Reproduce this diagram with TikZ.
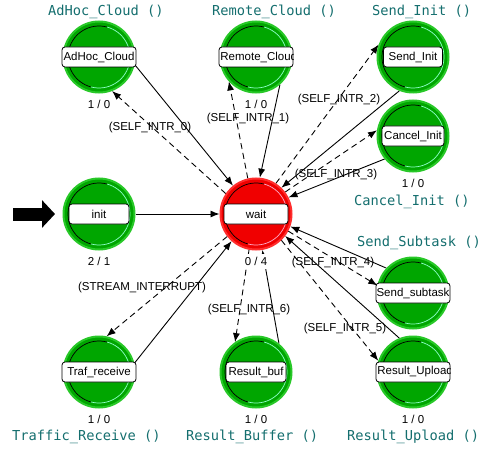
\documentclass[tikz,border=0pt]{standalone}
\usepackage{fontspec}
\setmainfont{Liberation Sans}
\newfontfamily\procfont{DejaVu Sans Mono}
\usetikzlibrary{arrows.meta,backgrounds}
\definecolor{stategreen}{RGB}{0,166,0}
\definecolor{ringgreen}{RGB}{40,200,40}
\definecolor{litegreen}{RGB}{140,255,200}
\definecolor{statered}{RGB}{240,0,0}
\definecolor{ringred}{RGB}{255,45,45}
\definecolor{litered}{RGB}{255,170,200}
\definecolor{proccolor}{RGB}{20,110,110}
\def\xl{99}
\def\xm{256}
\def\xr{413}

\begin{document}
\begin{tikzpicture}[x=1pt,y=-1pt,font=\fontsize{11.5}{13.8}\selectfont]
\tikzset{rings/.style={path picture={
	\draw[black,line width=0.7pt] (path picture bounding box.center) ++(75:31pt) arc (75:255:31pt);
	\draw[#1,line width=0.7pt] (path picture bounding box.center) ++(-105:31pt) arc (-105:75:31pt);}}}
\tikzset{cliptext/.style={path picture={
	\node[anchor=west,inner sep=1pt,font=\fontsize{11.5}{13.8}\selectfont] at (path picture bounding box.west) {#1};}}}
\tikzstyle{state}=[circle, minimum size=71pt, inner sep=0pt, line width=2pt, draw=ringgreen, fill=stategreen, rings=litegreen]
\tikzstyle{waitstate}=[state, draw=ringred, fill=statered, rings=litered]
\tikzstyle{namebox}=[rectangle, rounded corners=3pt, draw=black, line width=0.8pt, fill=white, minimum height=20pt, minimum width=60pt, inner sep=0pt]
\tikzstyle{procname}=[anchor=west, inner sep=0pt, text=proccolor, font=\procfont\fontsize{13.7}{15}\selectfont]
\tikzstyle{cnt}=[label distance=3pt, fill=white]
\tikzstyle{tlabel}=[inner sep=1pt]
\tikzstyle{solidtr}=[-{Latex[length=9pt,width=7pt]}, line width=0.9pt]
\tikzstyle{dashtr}=[solidtr, dash pattern=on 6pt off 4pt]
\tikzstyle{initarrow}=[-{Triangle[length=13pt,width=27pt]}, line width=13pt, shorten >=7.5pt]

	\useasboundingbox (0,0) rectangle (478,449);

	% states
	\node[state] (adhoc) at (\xl,57) [label={[cnt]below:{1 / 0}}]{};
	\node[state] (remote) at (\xm,57) [label={[cnt]below:{1 / 0}}]{};
	\node[state] (sendinit) at (\xr,57) {};
	\node[state] (cancelinit) at (\xr,136) [label={[cnt]below:{1 / 0}}]{};
	\node[state] (init) at (\xl,214) [label={[cnt]below:{2 / 1}}]{};
	\node[waitstate] (wait) at (\xm,214) [label={[cnt]below:{0 / 4}}]{};
	\node[state] (sendsub) at (\xr,293) {};
	\node[state] (trafrecv) at (\xl,372) [label={[cnt]below:{1 / 0}}]{};
	\node[state] (resbuf) at (\xm,372) [label={[cnt]below:{1 / 0}}]{};
	\node[state] (resup) at (\xr,372) [label={[cnt]below:{1 / 0}}]{};

	% name boxes
	\node[namebox, minimum width=74pt] (adhoc-box) at (adhoc) {AdHoc\_Cloud};
	\node[namebox, minimum width=74pt, cliptext=Remote\_Cloud] (remote-box) at (remote) {};
	\node[namebox, minimum width=59pt] (sendinit-box) at (sendinit) {Send\_Init};
	\node[namebox, minimum width=62pt] (cancelinit-box) at (cancelinit) {Cancel\_Init};
	\node[namebox] (init-box) at (init) {init};
	\node[namebox, minimum width=64pt] (wait-box) at (wait) {wait};
	\node[namebox, minimum width=74pt] (sendsub-box) at (sendsub) {Send\_subtask};
	\node[namebox, minimum width=74pt] (trafrecv-box) at (trafrecv) {Traf\_receive};
	\node[namebox] (resbuf-box) at (resbuf) {Result\_buf};
	\node[namebox, minimum width=74pt, cliptext=Result\_Upload] (resup-box) at (resup) {};

	% process names
	\node[procname] (adhoc-proc) at (48,12) {AdHoc\_Cloud ()};
	\node[procname] (remote-proc) at (212,12) {Remote\_Cloud ()};
	\node[procname] (sendinit-proc) at (372,12) {Send\_Init ()};
	\node[procname] (cancelinit-proc) at (354,202) {Cancel\_Init ()};
	\node[procname] (sendsub-proc) at (357,243) {Send\_Subtask ()};
	\node[procname] (trafrecv-proc) at (12,437) {Traffic\_Receive ()};
	\node[procname] (resbuf-proc) at (186,437) {Result\_Buffer ()};
	\node[procname] (resup-proc) at (347,437) {Result\_Upload ()};

	% transition labels
	\node[tlabel] (intr0) at (150,128) {(SELF\_INTR\_0)};
	\node[tlabel] (intr1) at (248,119) {(SELF\_INTR\_1)};
	\node[tlabel] (intr2) at (339,100) {(SELF\_INTR\_2)};
	\node[tlabel] (intr3) at (336,175) {(SELF\_INTR\_3)};
	\node[tlabel] (intr4) at (333,263) {(SELF\_INTR\_4)};
	\node[tlabel] (intr5) at (345,329) {(SELF\_INTR\_5)};
	\node[tlabel] (intr6) at (249,310) {(SELF\_INTR\_6)};
	\node[tlabel] (stream) at (142,288) {(STREAM\_INTERRUPT)};

	\coordinate (start) at (13,214);
	\draw[initarrow] (start) -- (init);

	\begin{pgfonlayer}{background}
	\path
		(init) edge [solidtr] (wait)
		(adhoc.-12) edge [solidtr] (wait.129)
		(wait.146) edge [dashtr] (adhoc.-69)
		(remote.-49) edge [solidtr] (wait.84)
		(wait.103) edge [dashtr] (remote.-138)
		(wait.57) edge [dashtr] (sendinit.160)
		(sendinit.-112) edge [solidtr] (wait.46)
		(wait.37) edge [dashtr] (cancelinit.171)
		(cancelinit.-141) edge [solidtr] (wait.27)
		(sendsub.137) edge [solidtr] (wait.-20)
		(wait.-28) edge [dashtr] (sendsub.168)
		(resup.112) edge [solidtr] (wait.-37)
		(wait.-46) edge [dashtr] (resup.162)
		(resbuf.51) edge [solidtr] (wait.-80)
		(wait.-101) edge [dashtr] (resbuf.125)
		(trafrecv.14) edge [solidtr] (wait.-132)
		(wait.-142) edge [dashtr] (trafrecv.78);
	\end{pgfonlayer}

\end{tikzpicture}
\end{document}
